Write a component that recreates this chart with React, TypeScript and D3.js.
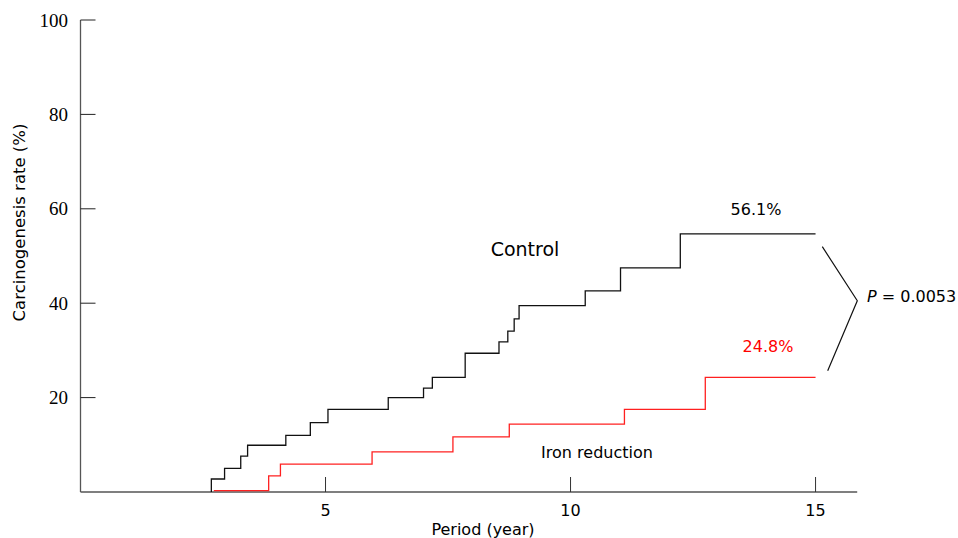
// Step chart: carcinogenesis rate over time, control vs iron reduction

import React, { useEffect, useRef } from "react"
import * as d3 from "d3"

const controlYears = [2.67, 2.67, 2.94, 3.27, 3.41, 4.19, 4.69, 5.05, 6.28, 7.0, 7.18, 7.85, 8.54, 8.72, 8.85, 8.95, 10.3, 11.02, 12.24, 15.0]
const controlRates = [0, 2.75, 5.0, 7.6, 9.9, 12.0, 14.7, 17.5, 20.0, 22.0, 24.3, 29.4, 31.8, 34.1, 36.7, 39.5, 42.6, 47.5, 54.7, 54.7]

const ironYears = [2.72, 3.84, 4.08, 5.95, 7.6, 8.75, 11.1, 12.75, 15.0]
const ironRates = [0.3, 3.4, 5.9, 8.5, 11.7, 14.4, 17.5, 24.3, 24.3]

const xTicks = [5, 10, 15]
const yTicks = [20, 40, 60, 80, 100]

const sans = "Tahoma, 'DejaVu Sans', sans-serif"
const serif = "'Liberation Serif', 'Times New Roman', serif"

function App() {
  const ref = useRef<SVGSVGElement>(null)

  useEffect(() => {
    const svg = d3.select(ref.current)
    svg.selectAll("*").remove()

    const x = d3.scaleLinear().domain([0, 15.85]).range([80.5, 857.2])
    const y = d3.scaleLinear().domain([0, 100]).range([492, 20])

    // axes lines
    svg.append("line")
      .attr("x1", x(0)).attr("x2", x(0)).attr("y1", y(0)).attr("y2", y(100))
      .attr("stroke", "#555").attr("stroke-width", 1.3)
    svg.append("line")
      .attr("x1", x(0)).attr("x2", x(15.85)).attr("y1", y(0)).attr("y2", y(0))
      .attr("stroke", "#555").attr("stroke-width", 1.3)

    // y ticks, pointing inward
    yTicks.forEach(t => {
      svg.append("line")
        .attr("x1", x(0)).attr("x2", x(0) + 15).attr("y1", y(t)).attr("y2", y(t))
        .attr("stroke", "#222").attr("stroke-width", 1)
      svg.append("text")
        .attr("x", 68).attr("y", y(t)).attr("dy", "0.35em")
        .attr("text-anchor", "end")
        .attr("font-family", serif).attr("font-size", 19)
        .text(t)
    })

    // x ticks
    xTicks.forEach(t => {
      svg.append("line")
        .attr("x1", x(t)).attr("x2", x(t)).attr("y1", y(0)).attr("y2", y(0) - 15)
        .attr("stroke", "#333").attr("stroke-width", 1)
      svg.append("text")
        .attr("x", x(t)).attr("y", 516)
        .attr("text-anchor", "middle")
        .attr("font-family", sans).attr("font-size", 16)
        .text(t)
    })

    svg.append("text")
      .attr("x", 483).attr("y", 535)
      .attr("text-anchor", "middle")
      .attr("font-family", sans).attr("font-size", 16)
      .text("Period (year)")

    svg.append("text")
      .attr("transform", "translate(25,222.5) rotate(-90)")
      .attr("text-anchor", "middle")
      .attr("font-family", sans).attr("font-size", 16.5)
      .text("Carcinogenesis rate (%)")

    const line = d3.line<[number, number]>()
      .x(d => x(d[0]))
      .y(d => y(d[1]))
      .curve(d3.curveStepAfter)

    const control = controlYears.map((t, i) => [t, controlRates[i]] as [number, number])
    const iron = ironYears.map((t, i) => [t, ironRates[i]] as [number, number])

    svg.append("path").datum(control)
      .attr("d", line).attr("fill", "none")
      .attr("stroke", "#111").attr("stroke-width", 1.3)
    svg.append("path").datum(iron)
      .attr("d", line).attr("fill", "none")
      .attr("stroke", "#ff2020").attr("stroke-width", 1.3)

    // annotations
    svg.append("text")
      .attr("x", 525).attr("y", 256)
      .attr("text-anchor", "middle")
      .attr("font-family", sans).attr("font-size", 19)
      .text("Control")
    svg.append("text")
      .attr("x", 597).attr("y", 458)
      .attr("text-anchor", "middle")
      .attr("font-family", sans).attr("font-size", 16)
      .text("Iron reduction")
    svg.append("text")
      .attr("x", 756).attr("y", 215)
      .attr("text-anchor", "middle")
      .attr("font-family", sans).attr("font-size", 16)
      .text("56.1%")
    svg.append("text")
      .attr("x", 768).attr("y", 352)
      .attr("text-anchor", "middle")
      .attr("font-family", sans).attr("font-size", 16)
      .attr("fill", "#ff0000")
      .text("24.8%")

    // bracket for p-value
    svg.append("path")
      .attr("d", d3.line()([[822.3, 246.7], [857.3, 300.7], [827.7, 370.7]]))
      .attr("fill", "none").attr("stroke", "#111").attr("stroke-width", 1.2)

    const p = svg.append("text")
      .attr("x", 867).attr("y", 302)
      .attr("font-family", sans).attr("font-size", 16)
    p.append("tspan").attr("font-style", "italic").text("P")
    p.append("tspan").text(" = 0.0053")
  }, [])

  return (
    <svg
      ref={ref}
      width={958}
      height={538}
      style={{ position: "absolute", left: 0, top: 0, background: "#fff" }}
    />
  )
}

export default App
